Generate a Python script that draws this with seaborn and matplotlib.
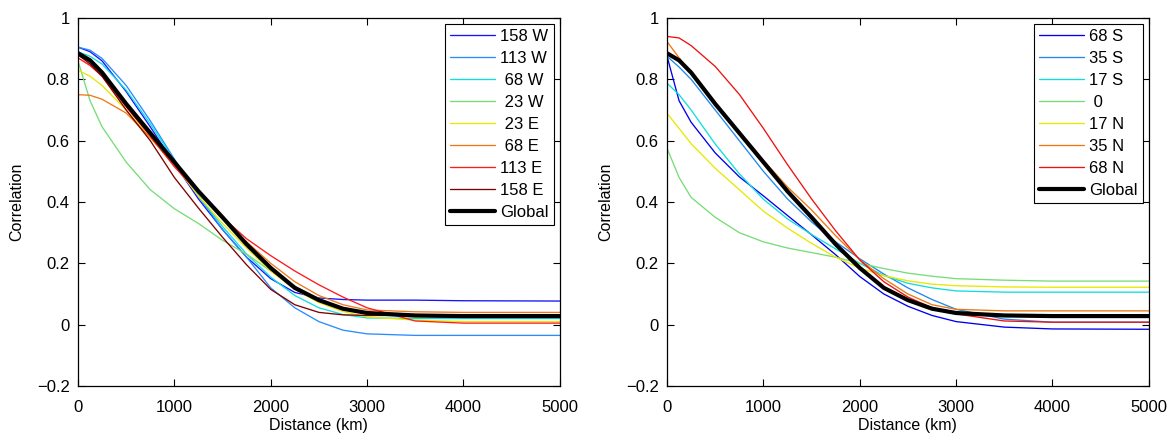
import numpy as np
import pandas as pd
import matplotlib
matplotlib.use("Agg")
import matplotlib.pyplot as plt
import seaborn as sns

sns.set_style("ticks", {"text.color": "black", "axes.labelcolor": "black",
                        "xtick.color": "black", "ytick.color": "black"})
plt.rcParams["font.family"] = ["Liberation Sans", "DejaVu Sans"]

dist = [0, 125, 250, 500, 750, 1000, 1250, 1500, 1750, 2000, 2250, 2500, 2750, 3000, 3500, 4000, 5000]

glob = [0.885, 0.862, 0.822, 0.72, 0.625, 0.53, 0.435, 0.35, 0.262, 0.185, 0.12, 0.08, 0.052, 0.038, 0.03, 0.028, 0.028]

# left panel: longitude bands
lon_labels = ["158 W", "113 W", " 68 W", " 23 W", " 23 E", " 68 E", "113 E", "158 E"]
lon_colors = ["#1414ff", "#2a8cff", "#10dede", "#77dd77", "#e8e800", "#f07818", "#ff1a1a", "#800000"]
w158 = [0.905, 0.89, 0.86, 0.76, 0.645, 0.525, 0.41, 0.31, 0.22, 0.15, 0.105, 0.087, 0.082, 0.08, 0.08, 0.078, 0.077]
w113 = [0.905, 0.895, 0.868, 0.78, 0.665, 0.54, 0.42, 0.31, 0.22, 0.12, 0.055, 0.01, -0.018, -0.03, -0.035, -0.035, -0.035]
w68 = [0.89, 0.875, 0.85, 0.765, 0.655, 0.535, 0.42, 0.32, 0.23, 0.155, 0.095, 0.055, 0.033, 0.022, 0.02, 0.02, 0.02]
w23 = [0.86, 0.73, 0.645, 0.53, 0.44, 0.378, 0.33, 0.275, 0.23, 0.175, 0.125, 0.085, 0.055, 0.035, 0.025, 0.025, 0.025]
e23 = [0.83, 0.81, 0.78, 0.7, 0.61, 0.52, 0.42, 0.33, 0.25, 0.175, 0.115, 0.072, 0.043, 0.025, 0.015, 0.01, 0.01]
e68 = [0.75, 0.748, 0.735, 0.69, 0.61, 0.52, 0.43, 0.345, 0.27, 0.2, 0.14, 0.095, 0.065, 0.048, 0.042, 0.04, 0.04]
e113 = [0.87, 0.845, 0.81, 0.71, 0.615, 0.515, 0.43, 0.35, 0.28, 0.225, 0.175, 0.13, 0.09, 0.055, 0.012, 0.005, 0.005]
e158 = [0.88, 0.85, 0.81, 0.7, 0.6, 0.48, 0.38, 0.285, 0.195, 0.115, 0.065, 0.04, 0.032, 0.03, 0.03, 0.03, 0.03]
lon_vals = [w158, w113, w68, w23, e23, e68, e113, e158]

# right panel: latitude bands
lat_labels = ["68 S", "35 S", "17 S", " 0", "17 N", "35 N", "68 N"]
lat_colors = ["#0000ee", "#2288ee", "#10dede", "#77dd77", "#e8e800", "#ee7711", "#ee1111"]
s68 = [0.875, 0.73, 0.66, 0.56, 0.482, 0.42, 0.356, 0.293, 0.228, 0.157, 0.1, 0.06, 0.03, 0.01, -0.008, -0.014, -0.015]
s35 = [0.875, 0.84, 0.8, 0.7, 0.6, 0.5, 0.41, 0.335, 0.27, 0.215, 0.165, 0.12, 0.082, 0.05, 0.018, 0.008, 0.008]
s17 = [0.787, 0.75, 0.7, 0.589, 0.492, 0.409, 0.345, 0.294, 0.247, 0.2, 0.16, 0.135, 0.12, 0.11, 0.106, 0.106, 0.106]
eq0 = [0.575, 0.48, 0.415, 0.35, 0.3, 0.27, 0.25, 0.235, 0.22, 0.2, 0.183, 0.168, 0.158, 0.15, 0.145, 0.142, 0.142]
n17 = [0.689, 0.64, 0.59, 0.51, 0.44, 0.37, 0.315, 0.265, 0.22, 0.184, 0.16, 0.143, 0.132, 0.127, 0.123, 0.122, 0.122]
n35 = [0.923, 0.87, 0.82, 0.723, 0.629, 0.536, 0.449, 0.374, 0.29, 0.212, 0.15, 0.1, 0.065, 0.05, 0.045, 0.045, 0.045]
n68 = [0.94, 0.935, 0.91, 0.842, 0.751, 0.64, 0.522, 0.41, 0.306, 0.211, 0.14, 0.09, 0.055, 0.035, 0.012, 0.008, 0.008]
lat_vals = [s68, s35, s17, eq0, n17, n35, n68]

fig = plt.figure(figsize=(11.75, 4.36), dpi=100)
ax1 = fig.add_axes([0.0664, 0.1147, 0.41, 0.844])
ax2 = fig.add_axes([0.5677, 0.1147, 0.41, 0.844])


def fmt(v, pos):
    s = "%g" % round(v, 2)
    return s.replace("-", "\u2212")


def panel(ax, labels, colors, vals):
    for lab, col, v in zip(labels, colors, vals):
        sns.lineplot(x=dist, y=v, ax=ax, color=col, lw=0.95, label=lab)
    sns.lineplot(x=dist, y=glob, ax=ax, color="black", lw=3, label="Global")
    ax.set_xlim(0, 5000)
    ax.set_ylim(-0.2, 1)
    ax.set_xticks([0, 1000, 2000, 3000, 4000, 5000])
    ax.set_yticks([-0.2, 0, 0.2, 0.4, 0.6, 0.8, 1])
    ax.yaxis.set_major_formatter(matplotlib.ticker.FuncFormatter(fmt))
    ax.tick_params(direction="in", top=True, right=True, length=5, width=0.8,
                   labelsize=12, pad=6, colors="black")
    ax.tick_params(axis="x", pad=10)
    for s in ax.spines.values():
        s.set_visible(True)
        s.set_color("black")
        s.set_linewidth(0.9)
    ax.set_xlabel("Distance (km)", fontsize=11.5, labelpad=2, color="black")
    ax.set_ylabel("Correlation", fontsize=11.5, labelpad=9, color="black")
    leg = ax.legend(loc="upper right", fontsize=12, frameon=True, fancybox=False,
                    edgecolor="black", framealpha=1, handlelength=2.7,
                    labelspacing=0.42, borderaxespad=0.35, handletextpad=0.35,
                    borderpad=0.3, labelcolor="black")
    leg.get_frame().set_linewidth(0.8)


panel(ax1, lon_labels, lon_colors, lon_vals)
panel(ax2, lat_labels, lat_colors, lat_vals)

fig.savefig("out.png", dpi=100)
